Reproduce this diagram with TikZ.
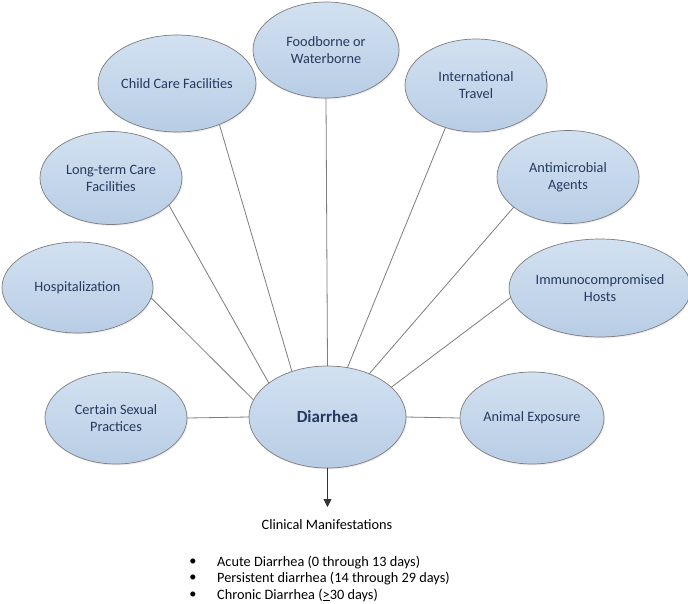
\documentclass[tikz,border=0pt]{standalone}
\usepackage{fontspec}
\setmainfont{Carlito}
\usetikzlibrary{shapes.geometric,arrows.meta,shadows}
\definecolor{elltop}{RGB}{210,225,241}
\definecolor{ellbot}{RGB}{184,205,229}
\definecolor{ellborder}{RGB}{125,125,125}
\definecolor{elltext}{RGB}{35,58,94}
\definecolor{conncol}{RGB}{125,125,125}
\tikzset{
  bubble/.style={ellipse, draw=ellborder, line width=0.7pt, top color=elltop, bottom color=ellbot,
    inner sep=0pt, outer sep=0pt, align=center, text=elltext,
    font=\fontsize{14.3}{17}\selectfont,
    drop shadow={opacity=0.14, shadow xshift=1pt, shadow yshift=-1.4pt}},
  conn/.style={draw=conncol, line width=0.8pt},
  plain/.style={inner sep=0pt, font=\fontsize{14.3}{17}\selectfont, text=black}
}
\begin{document}
\begin{tikzpicture}[x=1pt,y=-1pt]
\path[use as bounding box, fill=white] (0,0) rectangle (688,603);
\node[bubble, minimum width=157pt, minimum height=102pt, font=\fontsize{17}{20}\selectfont\bfseries] (d) at (327.5,417) {Diarrhea};
\node[bubble, minimum width=146pt, minimum height=96pt] (fw) at (326,50) {Foodborne or\\Waterborne};
\node[bubble, minimum width=144pt, minimum height=97pt] (cc) at (177,83.5) {Child Care Facilities};
\node[bubble, minimum width=142pt, minimum height=93pt] (it) at (476,85.5) {International\\Travel};
\node[bubble, minimum width=142pt, minimum height=93pt] (lt) at (111,178) {Long-term Care\\Facilities};
\node[bubble, minimum width=142pt, minimum height=93pt] (am) at (568,177) {Antimicrobial\\Agents};
\node[bubble, minimum width=151pt, minimum height=91pt] (ho) at (77.5,287.5) {Hospitalization};
\node[bubble, minimum width=173pt, minimum height=98pt] (im) at (600,288) {Immunocompromised\\Hosts};
\node[bubble, minimum width=142pt, minimum height=92pt] (sx) at (116,418) {Certain Sexual\\Practices};
\node[bubble, minimum width=144pt, minimum height=92pt] (an) at (532,418) {Animal Exposure};

\draw[conn] (fw.south) -- (d.north);
\draw[conn] (cc.-44.6) -- (d.128.3);
\draw[conn] (lt.-25) -- (d.150.3);
\draw[conn] (ho.-8.2) -- (d.167);
\draw[conn] (it.234.8) -- (d.68.3);
\draw[conn] (am.209) -- (d.46);
\draw[conn] (im.186.7) -- (d.25);
\draw[conn] (sx.east) -- (d.west);
\draw[conn] (d.east) -- (an.west);

\coordinate (arrowend) at (327.5,507);
\draw[draw=black!80, line width=0.8pt, -{Triangle[width=8pt,length=8pt]}] (d.south) -- (arrowend);

\node[plain] (cm) at (327,525) {Clinical Manifestations};
\node[plain] (b1) at (193,562) {\textbullet};
\node[plain] (b2) at (193,578.5) {\textbullet};
\node[plain] (b3) at (193,595) {\textbullet};
\node[plain, anchor=west] (t1) at (217,562) {Acute Diarrhea (0 through 13 days)};
\node[plain, anchor=west] (t2) at (217,578.5) {Persistent diarrhea (14 through 29 days)};
\node[plain, anchor=west] (t3) at (217,595) {Chronic Diarrhea (\underline{>}30 days)};
\end{tikzpicture}
\end{document}
